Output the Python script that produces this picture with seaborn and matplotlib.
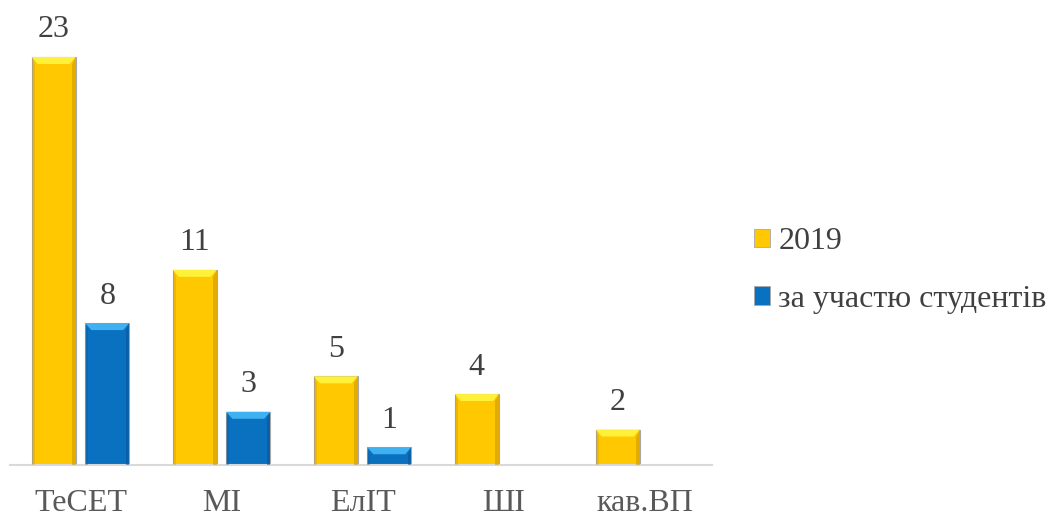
import numpy as np
import pandas as pd
import matplotlib
matplotlib.use("Agg")
import matplotlib.pyplot as plt
import seaborn as sns
from matplotlib.patches import Polygon, Patch

categories = ["ТеСЕТ", "МІ", "ЕлІТ", "ШІ", "кав.ВП"]
series_names = ["2019", "за участю студентів"]
values_2019 = [23, 11, 5, 4, 2]
values_students = [8, 3, 1, np.nan, np.nan]
colors = ["#FFC800", "#0A70C0"]
light = ["#FFF03A", "#3FB0F0"]
dark = ["#C89200", "#0A5090"]

rows = []
for c, v in zip(categories, values_2019):
    rows.append({"cat": c, "series": series_names[0], "val": v})
for c, v in zip(categories, values_students):
    rows.append({"cat": c, "series": series_names[1], "val": v})
df = pd.DataFrame(rows)

sns.set_theme(style="white")
plt.rcParams["font.family"] = ["Liberation Serif", "DejaVu Serif"]

fig = plt.figure(figsize=(10.49, 5.18), dpi=100)
ax = fig.add_axes([0.0095, 0.1023, 0.6695, 0.8562])

sns.barplot(data=df, x="cat", y="val", hue="series", order=categories,
            hue_order=series_names, palette=colors, saturation=1, width=0.76, gap=0.18,
            dodge=True, errorbar=None, ax=ax, legend=False,
            edgecolor="#a8a8a8", linewidth=0.8)

ax.set_xlim(-0.5, 4.48)
ax.set_ylim(0, 25)

inv = ax.transData.inverted()
pxx = abs(inv.transform((6, 0))[0] - inv.transform((0, 0))[0])
pxy = abs(inv.transform((0, 7))[1] - inv.transform((0, 0))[1])

# bevel effect derived from each drawn bar
for i, cont in enumerate(ax.containers):
    for p in cont.patches:
        h = p.get_height()
        if not np.isfinite(h) or h <= 0:
            continue
        x0, y0 = p.get_x(), p.get_y()
        w = p.get_width()
        bev_y = min(pxy, h / 2)
        top = y0 + h
        ax.add_patch(Polygon([(x0, top), (x0 + w, top), (x0 + w - pxx, top - bev_y),
                              (x0 + pxx, top - bev_y)], closed=True,
                             facecolor=light[i], edgecolor="none", zorder=3))
        ax.add_patch(Polygon([(x0 + w, top), (x0 + w, y0), (x0 + w - pxx * 0.6, y0),
                              (x0 + w - pxx * 0.6, top - bev_y)], closed=True,
                             facecolor=dark[i], edgecolor="none", zorder=3, alpha=0.5))
        ax.add_patch(Polygon([(x0, top), (x0, y0), (x0 + pxx * 0.5, y0),
                              (x0 + pxx * 0.5, top - bev_y)], closed=True,
                             facecolor=dark[i], edgecolor="none", zorder=3, alpha=0.3))
    ax.bar_label(cont, labels=[("%d" % v) if np.isfinite(v) and v > 0 else "" for v in cont.datavalues],
                 padding=9, fontsize=23, color="#404040")

ax.set_xlabel("")
ax.set_ylabel("")
ax.set_yticks([])
for s in ["top", "left", "right"]:
    ax.spines[s].set_visible(False)
ax.spines["bottom"].set_color("#d9d9d9")
ax.spines["bottom"].set_linewidth(1.5)
ax.tick_params(axis="x", length=0, pad=17, labelsize=23, labelcolor="#595959")

handles = [Patch(facecolor=colors[k], edgecolor="#a8a8a8", linewidth=0.6) for k in range(2)]
fig.legend(handles, series_names, loc="center left", bbox_to_anchor=(0.719, 0.478),
           frameon=False, fontsize=23, labelcolor="#404040", handlelength=0.5,
           handleheight=0.5, handletextpad=0.25, labelspacing=0.9, borderaxespad=0,
           borderpad=0)

fig.savefig("out.png", dpi=100)
